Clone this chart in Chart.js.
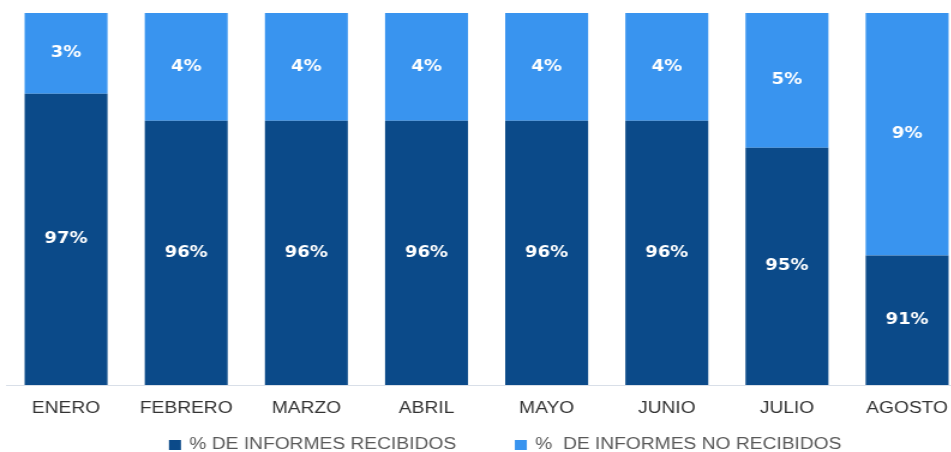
<!DOCTYPE html>
<html>
<head>
<meta charset="utf-8">
<script src="https://cdn.jsdelivr.net/npm/chart.js@4/dist/chart.umd.min.js"></script>
<style>
  html, body { margin: 0; padding: 0; background: #fff; overflow: hidden; }
  /* la imagen original esta estirada a lo ancho */
  #wrap { width: 806px; height: 452px; transform: scaleX(1.2); transform-origin: 0 0; }
</style>
</head>
<body>
<div id="wrap"><canvas id="myChart" width="806" height="452"></canvas></div>
<script>
const meses = ['ENERO', 'FEBRERO', 'MARZO', 'ABRIL', 'MAYO', 'JUNIO', 'JULIO', 'AGOSTO'];
const recibidos = [97, 96, 96, 96, 96, 96, 95, 91];
const noRecibidos = [3, 4, 4, 4, 4, 4, 5, 9];

// etiquetas blancas dentro de cada segmento (solo la parte visible)
const etiquetas = {
  id: 'etiquetas',
  afterDatasetsDraw(chart) {
    const ctx = chart.ctx;
    const area = chart.chartArea;
    ctx.save();
    ctx.fillStyle = '#ffffff';
    ctx.font = 'bold 15px "DejaVu Sans"';
    ctx.textAlign = 'center';
    ctx.textBaseline = 'middle';
    chart.data.datasets.forEach((ds, i) => {
      chart.getDatasetMeta(i).data.forEach((bar, j) => {
        const p = bar.getProps(['x', 'y', 'base'], true);
        const arriba = Math.max(Math.min(p.y, p.base), area.top);
        const abajo = Math.min(Math.max(p.y, p.base), area.bottom);
        ctx.fillText(ds.data[j] + '%', p.x, (arriba + abajo) / 2);
      });
    });
    ctx.restore();
  }
};

// leyenda dibujada a mano para poder colocarla como en el original
const leyenda = {
  id: 'leyenda',
  afterDraw(chart) {
    const ctx = chart.ctx;
    ctx.save();
    ctx.font = '16px "Liberation Sans"';
    ctx.textBaseline = 'middle';
    const caja = 10, sep = 7, hueco = 49;
    const items = chart.data.datasets.map(ds => ({
      text: ds.label, color: ds.backgroundColor, w: caja + sep + ctx.measureText(ds.label).width
    }));
    const total = items.reduce((s, it) => s + it.w, 0) + hueco * (items.length - 1);
    let x = 421 - total / 2;
    const y = 445;
    items.forEach(it => {
      ctx.fillStyle = it.color;
      ctx.fillRect(x, y - 5, caja, caja);
      ctx.fillStyle = '#595959';
      ctx.fillText(it.text, x + caja + sep, y);
      x += it.w + hueco;
    });
    ctx.restore();
  }
};

const ctx = document.getElementById('myChart').getContext('2d');

new Chart(ctx, {
  type: 'bar',
  data: {
    labels: meses,
    datasets: [{
      label: '% DE INFORMES RECIBIDOS',
      data: recibidos,
      backgroundColor: '#0B4A89'
    }, {
      label: '%  DE INFORMES NO RECIBIDOS',
      data: noRecibidos,
      backgroundColor: '#3994EF'
    }]
  },
  options: {
    responsive: false,
    animation: false,
    barPercentage: 0.69,
    categoryPercentage: 1,
    layout: {
      padding: { left: 5, right: 0, top: 13, bottom: 0 }
    },
    plugins: {
      legend: { display: false },
      tooltip: { enabled: false }
    },
    scales: {
      x: {
        stacked: true,
        grid: { display: false, drawTicks: false },
        border: { display: true, color: '#d9dfe8', width: 1 },
        ticks: {
          color: '#333333',
          padding: 14,
          font: { family: 'Liberation Sans', size: 16 }
        },
        afterFit(scale) { scale.height = 67; }
      },
      y: {
        stacked: true,
        display: false,
        min: 86.2,
        max: 100
      }
    }
  },
  plugins: [etiquetas, leyenda]
});
</script>
</body>
</html>
